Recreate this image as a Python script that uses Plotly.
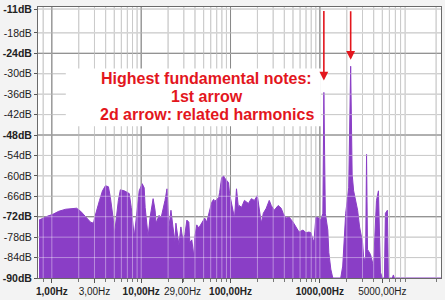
import math
import plotly.graph_objects as go

# ---------------- data ----------------
freq_low = [0.718, 0.794, 0.903, 1.026, 1.196, 1.431, 1.711, 1.896, 2.101, 2.387,
            2.712, 2.929, 3.004, 3.415, 3.687, 3.981, 4.299, 4.524, 4.886, 5.012,
            5.142, 5.553, 5.846, 6.474, 7.356, 7.743, 8.360, 9.028, 9.502, 10.26,
            10.80, 11.08, 11.96, 12.59, 13.60, 14.31, 14.68, 15.85, 16.68, 18.48,
            19.45, 20.47, 21.54, 22.68, 23.87, 24.48, 26.43, 27.83]
db_low = [-73.0, -72.4, -71.8, -71.3, -70.4, -69.8, -69.5, -69.5, -70.4, -72.1,
          -73.6, -73.9, -72.4, -67.2, -64.4, -62.9, -63.2, -66.4, -73.0, -77.3,
          -74.4, -67.2, -64.1, -64.4, -65.2, -69.3, -77.9, -69.3, -64.4, -62.3,
          -63.5, -69.3, -77.9, -72.1, -66.7, -70.1, -73.9, -71.6, -72.4, -67.2,
          -63.8, -75.0, -70.1, -75.0, -79.3, -73.9, -80.2, -75.0]

freq_mid = [29.29, 30.83, 32.45, 34.15, 35.04, 36.87, 38.81, 39.81, 41.90, 44.10,
            47.62, 50.12, 51.42, 54.12, 56.96, 58.45, 61.5, 64.74, 66.41, 73.56,
            75.47, 79.43, 83.6, 85.77, 90.28, 95.02, 97.47, 102.6, 108.0, 110.8,
            116.6, 122.7, 125.9, 132.5, 143.1, 158.5, 171.1, 184.8, 199.5, 210.0,
            221.1, 232.7, 251.2, 271.3, 285.5, 308.3, 341.5, 368.7, 388.1, 419.0,
            452.4, 501.2, 541.2, 584.6, 647.4, 698.9, 754.7, 794.3, 836.0, 857.7,
            902.8, 974.7, 1026, 1080]
db_mid = [-78.8, -77.3, -73.0, -73.6, -79.6, -78.8, -83.7, -77.9, -74.4, -75.3,
          -73.9, -73.0, -72.4, -73.6, -71.0, -70.1, -67.8, -66.9, -67.5, -66.4,
          -64.9, -60.6, -60.0, -60.6, -61.5, -62.0, -65.2, -68.1, -70.1, -72.4,
          -63.8, -69.5, -68.7, -69.3, -67.2, -68.1, -66.7, -67.2, -65.8, -70.1,
          -73.9, -71.0, -69.5, -67.2, -68.7, -70.1, -68.7, -69.5, -71.0, -72.4,
          -72.1, -73.6, -75.0, -76.5, -75.9, -76.7, -76.5, -76.7, -78.8, -79.3,
          -72.1, -72.4, -73.0, -71.0]

freq_high = [1108, 1151, 1227, 1259, 1325, 1395, 1711, 1801, 1945, 2101,
             2211, 2297, 2387, 2512, 2644, 2783, 3005, 3083, 3245, 3329,
             3415, 3687, 3880, 3981, 4299, 4524, 4762, 5012, 5275, 5412,
             5696, 5846, 6474, 6644, 6813, 22680]
db_high = [-35.5, -71.0, -75.9, -82.5, -87.4, -90, -90, -86.5, -71.0, -63.5,
           -27.8, -59.5, -64.4, -67.2, -70.1, -75.0, -79.6, -83.7, -85.4, -53.7,
           -81.6, -83.1, -85.1, -86.5, -67.2, -64.4, -88.3, -90, -90, -71.0,
           -70.1, -90, -90, -89.1, -90, -90]

floor_db = -90
top_db = -10.4

x_tick_vals = [1, 3, 10, 29, 100, 1000, 5000]
x_tick_text = ["<b>1,00Hz</b>", "3,00Hz", "<b>10,00Hz</b>", "29,00Hz",
               "<b>100,00Hz</b>", "<b>1000,00Hz</b>", "5000,00Hz"]
x_minor_grid = [0.8, 2, 3, 4, 5, 6, 7, 8, 9, 20, 30, 40, 50, 60, 70, 80, 90,
                200, 300, 400, 500, 600, 700, 800, 900,
                2000, 3000, 4000, 5000, 6000, 7000, 8000, 9000, 20000]
x_major_grid = [1, 10, 100, 1000]

y_tick_vals = [-11, -18, -24, -30, -36, -42, -48, -54, -60, -66, -72, -78, -84, -90]
y_tick_text = ["<b>-11dB</b>", "-18dB", "<b>-24dB</b>", "-30dB", "-36dB", "-42dB",
               "<b>-48dB</b>", "-54dB", "-60dB", "-66dB", "<b>-72dB</b>", "-78dB",
               "-84dB", "<b>-90dB</b>"]
y_minor_grid = [-11, -18, -30, -36, -42, -54, -60, -66, -78, -84]
y_major_grid = [-24, -48, -72]

arrow_hz = [1108, 2211]
arrow_tip_db = [-32.0, -25.9]
arrow_len_px = [71, 50]

note_lines = ["Highest fundamental notes:", "1st arrow", "2d arrow: related harmonics"]

# ---------------- figure ----------------
freq_hz = freq_low + freq_mid + freq_high
level_db = db_low + db_mid + db_high

PURPLE = "#8a3ec6"
RED = "#e3161d"
x_lo, x_hi = 0.70, 22680


def grid_xy(xs, ys):
    gx, gy = [], []
    for f in xs:
        gx += [f, f, None]
        gy += [floor_db, top_db, None]
    for d in ys:
        gx += [x_lo, x_hi, None]
        gy += [d, d, None]
    return gx, gy


fig = go.Figure()

mx, my = grid_xy(x_minor_grid, y_minor_grid)
Mx, My = grid_xy(x_major_grid, y_major_grid)
fig.add_trace(go.Scatter(x=mx, y=my, mode="lines", line=dict(color="#a8a8a8", width=1),
                         hoverinfo="skip", showlegend=False))
fig.add_trace(go.Scatter(x=Mx, y=My, mode="lines", line=dict(color="#3a3a3a", width=1),
                         hoverinfo="skip", showlegend=False))
# floor for the filled spectrum
fig.add_trace(go.Scatter(x=[freq_hz[0], freq_hz[-1]], y=[floor_db, floor_db], mode="lines",
                         line=dict(width=0, color=PURPLE), hoverinfo="skip", showlegend=False))
fig.add_trace(go.Scatter(x=freq_hz, y=level_db, mode="lines", fill="tonexty",
                         fillcolor=PURPLE, line=dict(color=PURPLE, width=1),
                         showlegend=False))
# light overlay of the grid on top of the spectrum
ax_, ay_ = grid_xy(x_minor_grid + x_major_grid, y_minor_grid + y_major_grid)
fig.add_trace(go.Scatter(x=ax_, y=ay_, mode="lines",
                         line=dict(color="rgba(255,255,255,0.4)", width=1),
                         hoverinfo="skip", showlegend=False))

# white box behind the note
fig.add_shape(type="rect", xref="paper", yref="paper", x0=0.069, x1=0.702,
              y0=0.560, y1=0.773, fillcolor="white", line=dict(width=0), layer="above")

for txt, yp in zip(note_lines, [0.7375, 0.668, 0.6018]):
    fig.add_annotation(text="<b>" + txt + "</b>", xref="paper", yref="paper",
                       x=0.4187, y=yp, showarrow=False, xanchor="center", yanchor="middle",
                       font=dict(family="Liberation Sans, Arial", size=16, color=RED))

for hz, tip, ln in zip(arrow_hz, arrow_tip_db, arrow_len_px):
    fig.add_annotation(x=math.log10(hz), y=tip, xref="x", yref="y", text="",
                       showarrow=True, ax=0, ay=-ln, arrowhead=2, arrowsize=1.1,
                       arrowwidth=1.6, arrowcolor=RED, standoff=0)

x_font = dict(family="Liberation Sans, Arial", size=10, color="#222222")
y_font = dict(family="Liberation Sans, Arial", size=10.5, color="#222222")
fig.update_xaxes(type="log", range=[math.log10(x_lo), math.log10(x_hi)],
                 tickmode="array", tickvals=x_tick_vals, ticktext=x_tick_text,
                 tickangle=0, ticks="outside", ticklen=4, tickcolor="#555", showgrid=False,
                 showline=True, linecolor="#6a6a6a", linewidth=1, mirror=True,
                 tickfont=x_font, zeroline=False, ticklabeloverflow="allow",
                 minor=dict(tickvals=x_minor_grid + x_major_grid, ticks="outside",
                            ticklen=3, tickcolor="#777", showgrid=False))
fig.update_yaxes(range=[floor_db, top_db], tickmode="array", tickvals=y_tick_vals,
                 ticktext=y_tick_text, ticks="outside", ticklen=3, tickcolor="#555",
                 showgrid=False, showline=True, linecolor="#6a6a6a", linewidth=1,
                 mirror=True, tickfont=y_font, zeroline=False, ticklabeloverflow="allow")

fig.update_layout(width=445, height=300, margin=dict(l=35, r=4, t=3, b=20),
                  paper_bgcolor="#f3f3f3", plot_bgcolor="white", showlegend=False)

fig.write_html("out.html")
